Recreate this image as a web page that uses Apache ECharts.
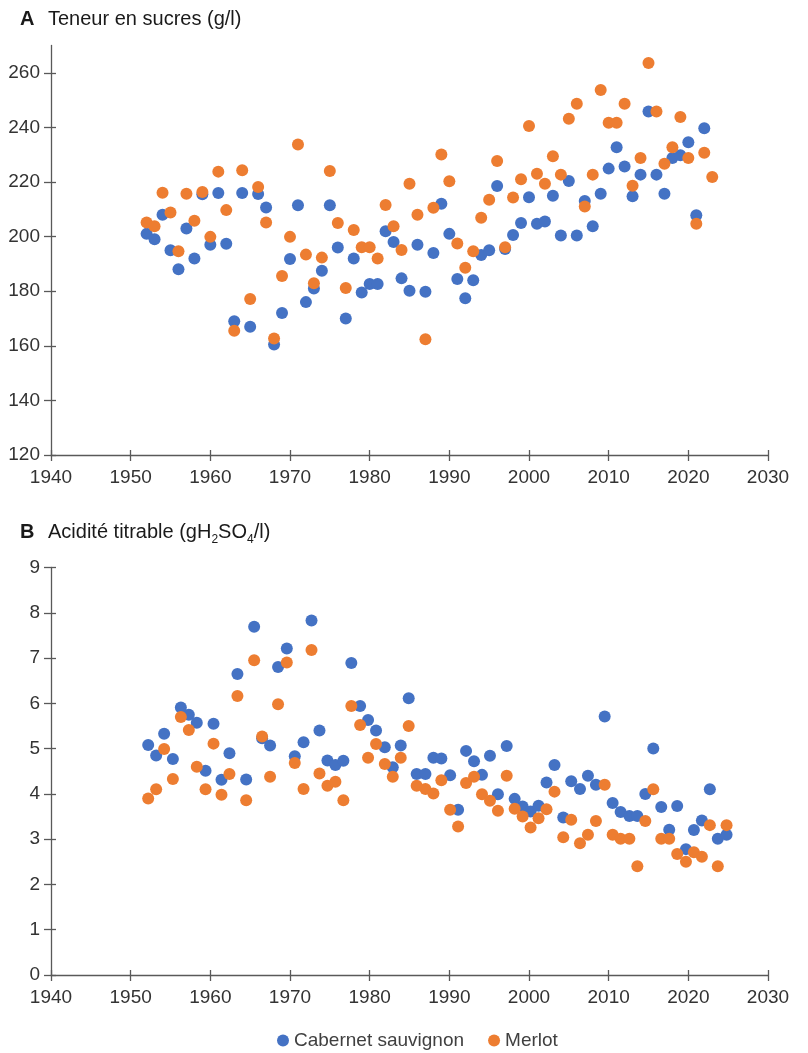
<!DOCTYPE html>
<html><head><meta charset="utf-8">
<script src="https://cdn.jsdelivr.net/npm/echarts@6/dist/echarts.min.js"></script>
<style>html,body{margin:0;padding:0;background:#fff}#c{width:808px;height:1053px}</style>
</head><body><div id="c"></div>
<script>
const seriesNames = ['Cabernet sauvignon', 'Merlot'];
const xTicks = [1940, 1950, 1960, 1970, 1980, 1990, 2000, 2010, 2020, 2030];
const sugarTicks = [120, 140, 160, 180, 200, 220, 240, 260];
const acidTicks = [0, 1, 2, 3, 4, 5, 6, 7, 8, 9];

// Panel A: sugar content (g/l), one point per vintage
const sugarYears = [1952,1953,1954,1955,1956,1957,1958,1959,1960,1961,1962,1963,1964,1965,1966,1967,1968,1969,1970,1971,
  1972,1973,1974,1975,1976,1977,1978,1979,1980,1981,1982,1983,1984,1985,1986,1987,1988,1989,1990,1991,
  1992,1993,1994,1995,1996,1997,1998,1999,2000,2001,2002,2003,2004,2005,2006,2007,2008,2009,2010,2011,
  2012,2013,2014,2015,2016,2017,2018,2019,2020,2021,2022,2023];
const sugarCabernet = [201,199,208,195,188,203,192,215.5,197,216,197.4,169,216,167,215.6,210.7,160.5,172,191.8,211.5,
  176,181,187.5,211.5,196,170,192,179.5,182.6,182.6,202,198,184.7,180.2,197,179.8,194,212,201,184.5,
  177.4,184,193.3,195,218.5,195.5,200.6,205,214.4,204.7,205.5,215,200.4,220.4,200.4,213,203.8,215.7,224.9,232.7,
  225.7,214.8,222.7,245.8,222.7,215.7,228.8,229.8,234.6,207.8,239.7];
const sugarMerlot = [205.2,203.8,216.1,208.8,194.6,215.7,205.8,216.3,199.9,223.8,209.7,165.5,224.3,177.1,218.2,205.2,162.7,185.6,199.9,233.7,
  193.4,182.9,192.3,224,205,181.2,202.4,196.1,196.1,192,211.6,203.8,195.1,219.4,208,162.4,210.6,230.1,220.3,197.5,
  188.6,194.6,206.9,213.5,227.7,196.1,214.3,221,240.5,223,219.4,229.4,222.7,243.2,248.7,211,222.7,253.7,241.7,241.7,
  248.7,218.6,228.8,263.6,245.8,226.7,232.7,243.8,228.8,204.7,230.7,221.8];

// Panel B: titratable acidity (g H2SO4/l), x positions
const acidYears = [1952.2,1953.2,1954.2,1955.3,1956.3,1957.3,1958.3,1959.4,1960.4,1961.4,1962.4,1963.4,1964.5,1965.5,1966.5,1967.5,1968.5,1969.6,1970.6,1971.7,
  1972.7,1973.7,1974.7,1975.7,1976.7,1977.7,1978.8,1979.8,1980.8,1981.9,1982.9,1983.9,1984.9,1985.9,1987.0,1988.0,1989.0,1990.1,1991.1,1992.1,
  1993.1,1994.1,1995.1,1996.1,1997.2,1998.2,1999.2,2000.2,2001.2,2002.2,2003.2,2004.3,2005.3,2006.4,2007.4,2008.4,2009.5,2010.5,2011.5,2012.6,
  2013.6,2014.6,2015.6,2016.6,2017.6,2018.6,2019.7,2020.7,2021.7,2022.7,2023.7,2024.8];
const acidCabernet = [5.08,4.85,5.33,4.77,5.91,5.75,5.57,4.51,5.55,4.31,4.90,6.65,4.32,7.69,5.23,5.07,6.80,7.21,4.83,5.14,
  7.83,5.40,4.74,4.64,4.73,6.89,5.94,5.63,5.40,5.03,4.59,5.07,6.11,4.44,4.44,4.80,4.78,4.41,3.65,4.95,
  4.72,4.42,4.84,3.99,5.06,3.89,3.72,3.61,3.74,4.25,4.64,3.48,4.28,4.11,4.40,4.20,5.71,3.80,3.60,3.51,
  3.51,4.00,5.00,3.71,3.21,3.73,2.78,3.20,3.41,4.10,3.01,3.10];
const acidMerlot = [3.90,4.10,4.99,4.33,5.70,5.41,4.60,4.10,5.11,3.98,4.44,6.16,3.86,6.95,5.27,4.38,5.98,6.90,4.68,4.11,
  7.18,4.45,4.18,4.27,3.86,5.94,5.52,4.80,5.10,4.66,4.38,4.80,5.50,4.18,4.11,4.01,4.30,3.65,3.28,4.24,
  4.38,3.99,3.85,3.63,4.40,3.67,3.50,3.26,3.46,3.66,4.05,3.04,3.43,2.91,3.10,3.40,4.20,3.10,3.01,3.01,
  2.40,3.40,4.10,3.01,3.01,2.67,2.50,2.71,2.61,3.31,2.40,3.31];

const FONT = '"Liberation Sans", Arial, Helvetica, sans-serif';
const AXIS_COLOR = '#595959';
const LABEL_COLOR = '#333333';
const COLORS = ['#4472C4', '#ED7D31'];

function pairs(xs, ys) { return ys.map((v, i) => [xs[i], v]); }
const plain = v => String(v);

function xAxisPair(gridIndex) {
  const base = {
    type: 'value', gridIndex, position: 'bottom', min: xTicks[0], max: xTicks[xTicks.length - 1], interval: 10,
    splitLine: { show: false }
  };
  return [
    Object.assign({}, base, {
      axisLine: { show: true, onZero: false, lineStyle: { color: AXIS_COLOR, width: 1.3 } },
      axisTick: { show: true, length: 6, lineStyle: { color: AXIS_COLOR, width: 1.3 } },
      axisLabel: { margin: 13, fontSize: 19, color: LABEL_COLOR, fontFamily: FONT, customValues: xTicks, formatter: plain }
    }),
    Object.assign({}, base, {
      axisLine: { show: false },
      axisTick: { show: true, inside: true, length: 5, lineStyle: { color: AXIS_COLOR, width: 1.3 } },
      axisLabel: { show: false }
    })
  ];
}
function yAxisPair(gridIndex, ticks, max, interval) {
  const base = {
    type: 'value', gridIndex, position: 'left', min: ticks[0], max, interval,
    splitLine: { show: false }
  };
  return [
    Object.assign({}, base, {
      axisLine: { show: true, onZero: false, lineStyle: { color: AXIS_COLOR, width: 1.3 } },
      axisTick: { show: true, length: 7, lineStyle: { color: AXIS_COLOR, width: 1.3 }, customValues: ticks },
      axisLabel: { margin: 11, fontSize: 19, color: LABEL_COLOR, fontFamily: FONT, customValues: ticks, formatter: plain }
    }),
    Object.assign({}, base, {
      axisLine: { show: false },
      axisTick: { show: true, inside: true, length: 5, lineStyle: { color: AXIS_COLOR, width: 1.3 }, customValues: ticks },
      axisLabel: { show: false }
    })
  ];
}

const titleStyle = { fontSize: 20, fontWeight: 'normal', color: '#1a1a1a', fontFamily: FONT };
const option = {
  animation: false,
  backgroundColor: '#ffffff',
  color: COLORS,
  title: [
    { text: 'A', left: 20, top: 9, padding: 0, textStyle: Object.assign({}, titleStyle, { fontWeight: 'bold' }) },
    { text: 'Teneur en sucres (g/l)', left: 48, top: 9, padding: 0, textStyle: titleStyle },
    { text: 'B', left: 20, top: 522, padding: 0, textStyle: Object.assign({}, titleStyle, { fontWeight: 'bold' }) },
    { text: '{t|Acidité titrable (gH}{s|2}{t|SO}{s|4}{t|/l)}', left: 48, top: 518, padding: 0,
      textStyle: { fontWeight: 'normal', fontSize: 20, fontFamily: FONT, color: '#1a1a1a', rich: {
        t: { fontSize: 20, fontWeight: 'normal', lineHeight: 28, color: '#1a1a1a', fontFamily: FONT, verticalAlign: 'middle' },
        s: { fontSize: 12, fontWeight: 'normal', lineHeight: 9, color: '#1a1a1a', fontFamily: FONT, verticalAlign: 'bottom' }
      } } }
  ],
  grid: [
    { left: 51, right: 40, top: 45.5, height: 409.5 },
    { left: 51, right: 40, top: 567.5, height: 407.5 }
  ],
  xAxis: [...xAxisPair(0), ...xAxisPair(1)],
  yAxis: [...yAxisPair(0, sugarTicks, 270, 10), ...yAxisPair(1, acidTicks, 9, 1)],
  legend: {
    data: seriesNames, left: 277, top: 1031, itemWidth: 12, itemHeight: 12, itemGap: 24,
    icon: 'circle', padding: 0,
    textStyle: { fontSize: 19, color: '#404040', fontFamily: FONT }
  },
  series: [
    { name: seriesNames[0], type: 'scatter', xAxisIndex: 0, yAxisIndex: 0, symbolSize: 12, data: pairs(sugarYears, sugarCabernet), itemStyle: { color: COLORS[0], opacity: 1 } },
    { name: seriesNames[1], type: 'scatter', xAxisIndex: 0, yAxisIndex: 0, symbolSize: 12, data: pairs(sugarYears, sugarMerlot), itemStyle: { color: COLORS[1], opacity: 1 } },
    { name: seriesNames[0], type: 'scatter', xAxisIndex: 2, yAxisIndex: 2, symbolSize: 12, data: pairs(acidYears, acidCabernet), itemStyle: { color: COLORS[0], opacity: 1 } },
    { name: seriesNames[1], type: 'scatter', xAxisIndex: 2, yAxisIndex: 2, symbolSize: 12, data: pairs(acidYears, acidMerlot), itemStyle: { color: COLORS[1], opacity: 1 } }
  ]
};
const chart = echarts.init(document.getElementById('c'), null, { renderer: 'canvas' });
chart.setOption(option);
</script>
</body></html>
